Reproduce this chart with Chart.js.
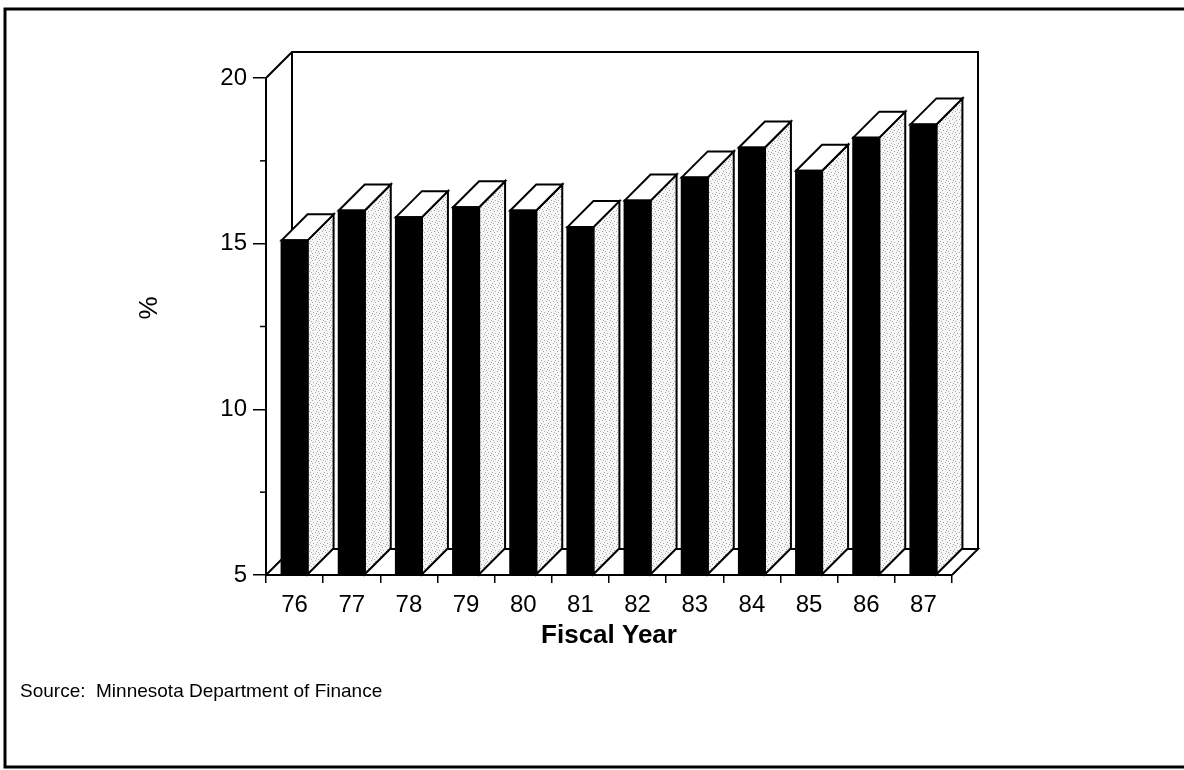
<!DOCTYPE html>
<html><head><meta charset="utf-8">
<script src="https://cdn.jsdelivr.net/npm/chart.js@4/dist/chart.umd.min.js"></script>
<style>html,body{margin:0;padding:0;background:#fff}canvas{display:block}</style>
</head><body>
<canvas id="c" width="1184" height="770"></canvas>
<script>
const categories = ['76','77','78','79','80','81','82','83','84','85','86','87'];
const shareValues = [15.1, 16.0, 15.8, 16.1, 16.0, 15.5, 16.3, 17.0, 17.9, 17.2, 18.2, 18.6];
const yTickValues = [5, 7.5, 10, 12.5, 15, 17.5, 20];
const yLabelValues = [5, 10, 15, 20];
const xTitle = 'Fiscal Year';
const yTitle = '%';
const sourceNote = 'Source:  Minnesota Department of Finance';

const FONT = '"Liberation Sans", Arial, Helvetica, sans-serif';
const DEPTH = 26;

const stipple = (() => {
  const c = document.createElement('canvas'); c.width = 7; c.height = 7;
  const g = c.getContext('2d');
  g.fillStyle = '#f6f6f6'; g.fillRect(0, 0, 7, 7);
  g.fillStyle = '#a8a8a8';
  [[0,0],[4,1],[2,3],[5,4],[1,5],[3,6]].forEach(p => g.fillRect(p[0], p[1], 1, 1));
  return c;
})();

const box3d = {
  id: 'box3d',
  beforeDraw(chart) {
    const ctx = chart.ctx;
    ctx.save(); ctx.fillStyle = '#fff'; ctx.fillRect(0, 0, chart.width, chart.height); ctx.restore();
  },
  beforeDatasetsDraw(chart) {
    const ctx = chart.ctx, a = chart.chartArea, d = DEPTH;
    ctx.save();
    ctx.strokeStyle = '#000'; ctx.lineWidth = 2; ctx.lineJoin = 'miter';
    ctx.beginPath();
    ctx.moveTo(a.left, a.top); ctx.lineTo(a.left + d, a.top - d);
    ctx.lineTo(a.right + d, a.top - d); ctx.lineTo(a.right + d, a.bottom - d);
    ctx.moveTo(a.left + d, a.top - d); ctx.lineTo(a.left + d, a.bottom - d);
    ctx.moveTo(a.left, a.bottom); ctx.lineTo(a.left + d, a.bottom - d);
    ctx.lineTo(a.right + d, a.bottom - d); ctx.lineTo(a.right, a.bottom);
    ctx.stroke();
    ctx.restore();
  },
  afterDatasetsDraw(chart) {
    const ctx = chart.ctx, d = DEPTH;
    const pat = ctx.createPattern(stipple, 'repeat');
    const meta = chart.getDatasetMeta(0);
    ctx.save();
    ctx.strokeStyle = '#000'; ctx.lineWidth = 2; ctx.lineJoin = 'miter';
    meta.data.forEach(bar => {
      const p = bar.getProps(['x', 'y', 'base', 'width'], true);
      const l = p.x - p.width / 2, r = p.x + p.width / 2, y = p.y, b = p.base;
      ctx.beginPath();
      ctx.moveTo(r, y); ctx.lineTo(r + d, y - d); ctx.lineTo(r + d, b - d); ctx.lineTo(r, b); ctx.closePath();
      ctx.fillStyle = pat; ctx.fill(); ctx.stroke();
      ctx.beginPath();
      ctx.moveTo(l, y); ctx.lineTo(l + d, y - d); ctx.lineTo(r + d, y - d); ctx.lineTo(r, y); ctx.closePath();
      ctx.fillStyle = '#fff'; ctx.fill(); ctx.stroke();
      ctx.strokeRect(l, y, p.width, b - y);
    });
    ctx.restore();
  },
  afterDraw(chart) {
    const ctx = chart.ctx, ys = chart.scales.y, a = chart.chartArea;
    ctx.save();
    ctx.strokeStyle = '#000'; ctx.lineWidth = 1.5;
    yTickValues.filter(v => !yLabelValues.includes(v)).forEach(v => {
      const py = ys.getPixelForValue(v);
      ctx.beginPath(); ctx.moveTo(a.left - 6, py); ctx.lineTo(a.left, py); ctx.stroke();
    });
    ctx.fillStyle = '#000';
    ctx.save();
    ctx.translate(150, 308); ctx.rotate(-Math.PI / 2);
    ctx.font = '26px ' + FONT; ctx.textAlign = 'center'; ctx.textBaseline = 'middle';
    ctx.fillText(yTitle, 0, 0);
    ctx.restore();
    ctx.font = '19px ' + FONT;
    ctx.textBaseline = 'middle'; ctx.textAlign = 'left';
    ctx.fillText(sourceNote, 20, 692);
    ctx.lineWidth = 3;
    ctx.beginPath();
    ctx.moveTo(1184, 9); ctx.lineTo(5, 9); ctx.lineTo(5, 767); ctx.lineTo(1184, 767);
    ctx.stroke();
    ctx.restore();
  }
};

Chart.defaults.font.family = FONT;
Chart.defaults.color = '#000';

new Chart(document.getElementById('c'), {
  type: 'bar',
  data: {
    labels: categories,
    datasets: [{
      data: shareValues,
      base: 5,
      backgroundColor: '#000',
      borderWidth: 0,
      barPercentage: 0.455,
      categoryPercentage: 1
    }]
  },
  options: {
    responsive: false,
    animation: false,
    devicePixelRatio: 1,
    layout: { padding: { left: 20, top: 78, right: 232, bottom: 105 } },
    plugins: { legend: { display: false }, tooltip: { enabled: false } },
    scales: {
      x: {
        afterFit(s) { s.height = 90; },
        grid: { drawOnChartArea: false, color: '#000', lineWidth: 1.5, tickLength: 8 },
        border: { display: true, color: '#000', width: 2 },
        ticks: { font: { size: 24 }, padding: 8, maxRotation: 0, color: '#000' },
        title: { display: true, text: xTitle, font: { size: 26, weight: 'bold' }, padding: { top: 4, bottom: 14 }, color: '#000' }
      },
      y: {
        min: 5, max: 20,
        afterFit(s) { s.width = 246; },
        afterBuildTicks(s) { s.ticks = yTickValues.map(v => ({ value: v })); },
        grid: {
          drawOnChartArea: false, lineWidth: 1.5, tickLength: 13,
          color: ctx => (ctx.tick && yLabelValues.includes(ctx.tick.value)) ? '#000' : 'rgba(0,0,0,0)',
          tickColor: ctx => (ctx.tick && yLabelValues.includes(ctx.tick.value)) ? '#000' : 'rgba(0,0,0,0)'
        },
        border: { display: true, color: '#000', width: 2 },
        ticks: {
          font: { size: 24 }, padding: 6, color: '#000',
          callback: v => yLabelValues.includes(v) ? String(v) : ''
        }
      }
    }
  },
  plugins: [box3d]
});
</script>
</body></html>
